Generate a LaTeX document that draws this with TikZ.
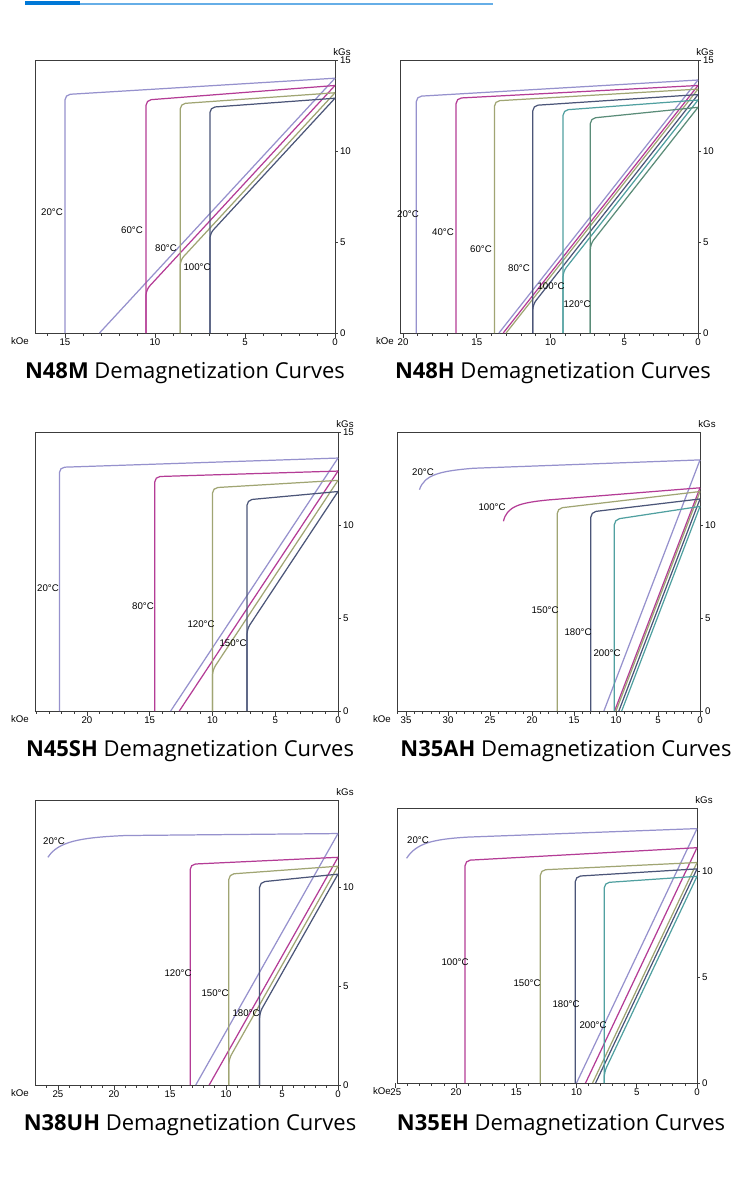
\documentclass[tikz,border=0pt]{standalone}
\usepackage{fontspec}
\setmainfont{Liberation Sans}
\newfontfamily\titlefont{Open Sans}
\usepackage{tikz}
\usetikzlibrary{positioning}
\definecolor{headblue}{RGB}{0,120,215}
\definecolor{tA}{RGB}{150,145,205}
\definecolor{tB}{RGB}{180,60,150}
\definecolor{tC}{RGB}{160,165,115}
\definecolor{tD}{RGB}{75,85,120}
\definecolor{tE}{RGB}{80,160,160}
\definecolor{tF}{RGB}{90,140,120}
\definecolor{framegray}{RGB}{60,60,60}

% axes of one chart: origin x, origin y, left, top, px per kOe, px per kGs, kOe labels, kGs labels, last kOe tick
\newcommand{\chartaxes}[9]{%
  \draw[frame] (#3,#2) rectangle (#1,#4);
  \foreach \h in {0,...,#9} {
    \draw[frame] (#1-\h*#5,#2) -- ++(0,2.5);
  }
  \foreach \h in {#7} {
    \draw[frame] (#1-\h*#5,#2) -- ++(0,4.5);
    \node[ticklabel] at (#1-\h*#5,#2+9) {\h};
  }
  \foreach \b in {#8} {
    \draw[frame] (#1,#2-\b*#6) -- ++(3,0);
    \node[ticklabel, anchor=west] at (#1+3,#2-\b*#6) {\b};
  }
  \node[ticklabel] (koe) at (#3-15,#2+8) {kOe};
  \node[ticklabel] (kgs) at (#1+7,#4-8) {kGs};
}
% intrinsic curve: Hcj, B at knee, B at H=0
\newcommand{\intr}[4]{%
  \draw[curve, #4, rounded corners=3pt] (#1,0) -- (#1,#2) -- (0,#3);
}
% normal curve: Br, slope, Hcj
\newcommand{\norm}[4]{%
  \pgfmathsetmacro\hb{#1/#2}
  \pgfmathparse{\hb<#3 ? 1 : 0}
  \ifnum\pgfmathresult=1
    \draw[curve, #4] (0,#1) -- (\hb,0);
  \else
    \pgfmathsetmacro\bk{#1-#2*#3}
    \draw[curve, #4, rounded corners=3pt] (0,#1) -- (#3,\bk) -- (#3,0);
  \fi
}

\begin{document}
\begin{tikzpicture}[
    x=0.02cm, y=-0.02cm,
    frame/.style={draw=framegray, line width=0.5pt},
    curve/.style={line width=0.7pt},
    ticklabel/.style={font=\fontsize{5.5}{6}\selectfont, inner sep=1pt},
    templabel/.style={font=\fontsize{5.5}{6}\selectfont, inner sep=1pt},
    title/.style={font=\titlefont\fontsize{12.5}{14}\selectfont}
]
    \useasboundingbox[fill=white] (0,0) rectangle (750,1204);
    % header
    \draw[headblue!60, line width=0.6pt] (25,4) -- (493,4);
    \draw[headblue, line width=2.5pt] (25,3) -- (80,3);

    % N48M
    \chartaxes{335}{333}{35}{60}{18}{18.2}{0,5,10,15}{0,5,10,15}{16}
    \begin{scope}[shift={(335,333)}, xscale=-18, yscale=-18.2]
        \intr{15.0}{13.1}{14.0}{tA} \norm{14.0}{1.07}{15.0}{tA}
        \intr{10.5}{12.8}{13.6}{tB} \norm{13.6}{1.07}{10.5}{tB}
        \intr{8.6}{12.6}{13.2}{tC}  \norm{13.2}{1.07}{8.6}{tC}
        \intr{6.95}{12.4}{12.9}{tD} \norm{12.9}{1.07}{6.95}{tD}
    \end{scope}
    \node[templabel] (m20) at (52,212) {20°C};
    \node[templabel] (m60) at (132,230) {60°C};
    \node[templabel] (m80) at (166,248) {80°C};
    \node[templabel] (m100) at (197,267) {100°C};
    \node[title] (tm) at (185,373) {\textbf{N48M} Demagnetization Curves};

    % N48H
    \chartaxes{698}{333}{400}{60}{14.75}{18.2}{0,5,10,15,20}{0,5,10,15}{20}
    \begin{scope}[shift={(698,333)}, xscale=-14.75, yscale=-18.2]
        \intr{19.1}{13.0}{13.9}{tA}  \norm{13.9}{1.03}{19.1}{tA}
        \intr{16.4}{12.9}{13.6}{tB}  \norm{13.6}{1.03}{16.4}{tB}
        \intr{13.8}{12.75}{13.4}{tC} \norm{13.4}{1.03}{13.8}{tC}
        \intr{11.2}{12.5}{13.1}{tD}  \norm{13.1}{1.03}{11.2}{tD}
        \intr{9.15}{12.25}{12.8}{tE} \norm{12.8}{1.03}{9.15}{tE}
        \intr{7.3}{11.8}{12.4}{tF}   \norm{12.4}{1.03}{7.3}{tF}
    \end{scope}
    \node[templabel] (h20) at (408,214) {20°C};
    \node[templabel] (h40) at (443,232) {40°C};
    \node[templabel] (h60) at (481,249) {60°C};
    \node[templabel] (h80) at (519,268) {80°C};
    \node[templabel] (h100) at (551,286) {100°C};
    \node[templabel] (h120) at (577,304) {120°C};
    \node[title] (th) at (553,373) {\textbf{N48H} Demagnetization Curves};

    % N45SH
    \chartaxes{338}{711}{35}{432}{12.55}{18.6}{0,5,10,15,20}{0,5,10,15}{24}
    \begin{scope}[shift={(338,711)}, xscale=-12.55, yscale=-18.6]
        \intr{22.2}{13.1}{13.6}{tA}  \norm{13.6}{1.02}{22.2}{tA}
        \intr{14.6}{12.6}{12.9}{tB}  \norm{12.9}{1.02}{14.6}{tB}
        \intr{10.0}{12.0}{12.4}{tC}  \norm{12.4}{1.02}{10.0}{tC}
        \intr{7.25}{11.35}{11.8}{tD} \norm{11.8}{1.02}{7.25}{tD}
    \end{scope}
    \node[templabel] (s20) at (48,588) {20°C};
    \node[templabel] (s80) at (143,606) {80°C};
    \node[templabel] (s120) at (201,624) {120°C};
    \node[templabel] (s150) at (233,643) {150°C};
    \node[title] (ts) at (190,751) {\textbf{N45SH} Demagnetization Curves};

    % N35AH
    \chartaxes{700}{711}{397}{432}{8.4}{18.6}{0,5,10,15,20,25,30,35}{0,5,10}{36}
    \begin{scope}[shift={(700,711)}, xscale=-8.4, yscale=-18.6]
        \draw[curve, tA] (33.4,11.9) .. controls (32.8,12.7) and (31,12.9) .. (27,13.05) -- (0,13.5);
        \norm{13.5}{1.18}{40}{tA}
        \draw[curve, tB] (23.4,10.2) .. controls (23,11.0) and (21.5,11.2) .. (18,11.35) -- (0,12.0);
        \norm{12.0}{1.18}{40}{tB}
        \intr{17.0}{10.9}{11.8}{tC} \norm{11.8}{1.18}{17.0}{tC}
        \intr{13.0}{10.7}{11.4}{tD} \norm{11.4}{1.18}{13.0}{tD}
        \intr{10.2}{10.3}{11.0}{tE} \norm{11.0}{1.18}{10.2}{tE}
    \end{scope}
    \node[templabel] (a20) at (423,472) {20°C};
    \node[templabel] (a100) at (492,507) {100°C};
    \node[templabel] (a150) at (545,610) {150°C};
    \node[templabel] (a180) at (578,632) {180°C};
    \node[templabel] (a200) at (607,653) {200°C};
    \node[title] (ta) at (566,751) {\textbf{N35AH} Demagnetization Curves};

    % N38UH
    \chartaxes{338}{1085}{35}{800}{11.2}{19.8}{0,5,10,15,20,25}{0,5,10}{26}
    \begin{scope}[shift={(338,1085)}, xscale=-11.2, yscale=-19.8]
        \draw[curve, tA] (25.9,11.5) .. controls (25,12.3) and (23,12.5) .. (19,12.6) -- (0,12.7);
        \norm{12.7}{1.0}{40}{tA}
        \intr{13.2}{11.15}{11.5}{tB}  \norm{11.5}{1.0}{13.2}{tB}
        \intr{9.75}{10.65}{11.05}{tC} \norm{11.05}{1.0}{9.75}{tC}
        \intr{7.0}{10.25}{10.65}{tD}  \norm{10.65}{1.0}{7.0}{tD}
    \end{scope}
    \node[templabel] (u20) at (54,841) {20°C};
    \node[templabel] (u120) at (178,973) {120°C};
    \node[templabel] (u150) at (215,993) {150°C};
    \node[templabel] (u180) at (246,1013) {180°C};
    \node[title] (tu) at (190,1125) {\textbf{N38UH} Demagnetization Curves};

    % N35EH
    \chartaxes{697}{1083}{397}{808}{12.05}{21.2}{0,5,10,15,20,25}{0,5,10}{25}
    \begin{scope}[shift={(697,1083)}, xscale=-12.05, yscale=-21.2]
        \draw[curve, tA] (24.1,10.6) .. controls (23.3,11.3) and (22,11.5) .. (19,11.6) -- (0,12.0);
        \norm{12.0}{1.2}{40}{tA}
        \intr{19.25}{10.5}{11.1}{tB} \norm{11.1}{1.2}{19.25}{tB}
        \intr{13.0}{10.05}{10.4}{tC} \norm{10.4}{1.2}{13.0}{tC}
        \intr{10.1}{9.75}{10.1}{tD}  \norm{10.1}{1.2}{10.1}{tD}
        \intr{7.7}{9.45}{9.75}{tE}   \norm{9.75}{1.2}{7.7}{tE}
    \end{scope}
    \node[templabel] (e20) at (418,840) {20°C};
    \node[templabel] (e100) at (455,962) {100°C};
    \node[templabel] (e150) at (527,983) {150°C};
    \node[templabel] (e180) at (566,1004) {180°C};
    \node[templabel] (e200) at (593,1025) {200°C};
    \node[title] (te) at (561,1125) {\textbf{N35EH} Demagnetization Curves};
\end{tikzpicture}
\end{document}
